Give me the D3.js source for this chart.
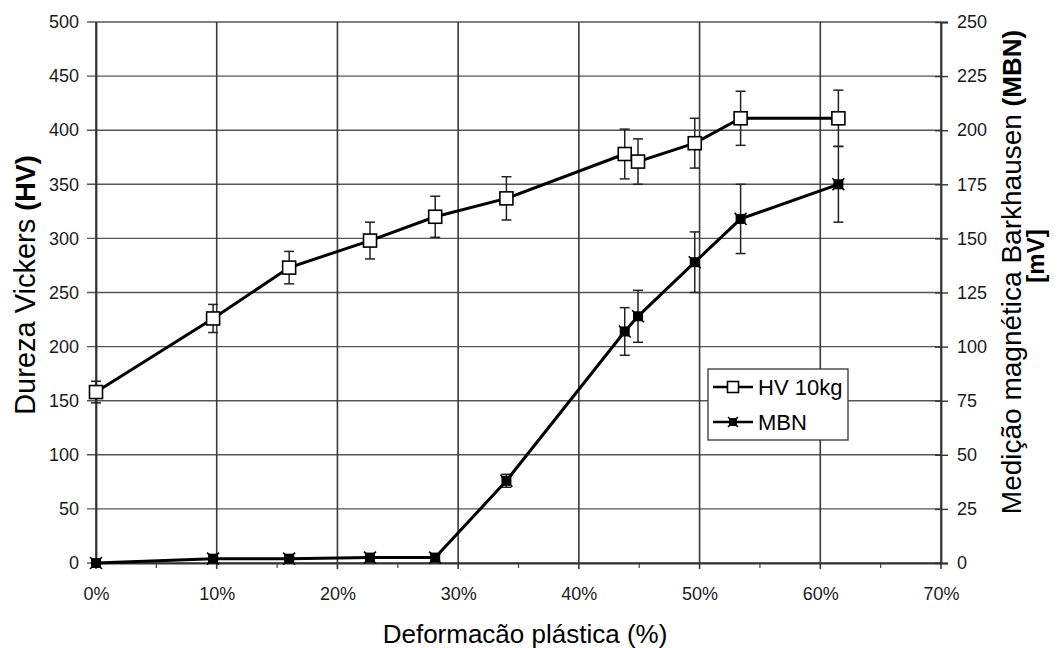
<!DOCTYPE html>
<html>
<head>
<meta charset="utf-8">
<script src="https://cdn.jsdelivr.net/npm/d3@7"></script>
<style>
  body { margin: 0; background: #fff; }
  svg { display: block; font-family: "Liberation Sans", Arial, sans-serif; }
</style>
</head>
<body>
<div id="chart"></div>
<script>
// deformation (fraction), HV hardness, MBN signal
var deform = [0, 0.097, 0.16, 0.227, 0.281, 0.340, 0.438, 0.449, 0.496, 0.534, 0.615];
var hv     = [158, 226, 273, 298, 320, 337, 378, 371, 388, 411, 411];
var hvErr  = [10, 13, 15, 17, 19, 20, 23, 21, 23, 25, 26];
var mbn    = [0, 2, 2, 2.5, 2.5, 38, 107, 114, 139, 159, 175];
var mbnErr = [0.5, 1, 1, 1.5, 1.5, 3, 11, 12, 14, 16, 17.5];

var xTicks = [0, 0.1, 0.2, 0.3, 0.4, 0.5, 0.6, 0.7];
var yLeftTicks = d3.range(0, 501, 50);
var yRightTicks = d3.range(0, 251, 25);

var W = 1059, H = 648;
var margin = { top: 22, right: 118, bottom: 85, left: 96 };

var x = d3.scaleLinear().domain([0, 0.7]).range([margin.left, W - margin.right]);
var yL = d3.scaleLinear().domain([0, 500]).range([H - margin.bottom, margin.top]);
var yR = d3.scaleLinear().domain([0, 250]).range([H - margin.bottom, margin.top]);

var svg = d3.select('#chart').append('svg').attr('width', W).attr('height', H);

// grid
svg.append('g').selectAll('line').data(yLeftTicks).enter().append('line')
  .attr('x1', margin.left - 9).attr('x2', W - margin.right)
  .attr('y1', function (d) { return yL(d); }).attr('y2', function (d) { return yL(d); })
  .attr('stroke', '#555').attr('stroke-width', 1.4);
svg.append('g').selectAll('line').data(xTicks).enter().append('line')
  .attr('x1', function (d) { return x(d); }).attr('x2', function (d) { return x(d); })
  .attr('y1', margin.top).attr('y2', H - margin.bottom + 6)
  .attr('stroke', '#3a3a3a').attr('stroke-width', 1.6);
// minor x ticks
svg.append('g').selectAll('line').data(d3.range(0.05, 0.7, 0.1)).enter().append('line')
  .attr('x1', function (d) { return x(d); }).attr('x2', function (d) { return x(d); })
  .attr('y1', H - margin.bottom).attr('y2', H - margin.bottom + 5)
  .attr('stroke', '#444').attr('stroke-width', 1.2);

// axes
var xAxis = d3.axisBottom(x).tickValues(xTicks).tickFormat(d3.format('.0%')).tickSize(0).tickPadding(24);
var gx = svg.append('g').attr('transform', 'translate(0,' + (H - margin.bottom) + ')').call(xAxis);
var yAxisL = d3.axisLeft(yL).tickValues(yLeftTicks).tickSize(0).tickPadding(17);
var gl = svg.append('g').attr('transform', 'translate(' + margin.left + ',0)').call(yAxisL);
var yAxisR = d3.axisRight(yR).tickValues(yRightTicks).tickSize(7).tickPadding(9);
var gr = svg.append('g').attr('transform', 'translate(' + (W - margin.right) + ',0)').call(yAxisR);
gr.selectAll('.tick line').attr('x1', -6).attr('stroke', '#333').attr('stroke-width', 1.4);

[gx, gl, gr].forEach(function (g) {
  g.select('.domain').attr('stroke', '#333').attr('stroke-width', 1.8);
  g.selectAll('text').attr('font-size', 18).attr('fill', '#1a1a1a')
    .attr('font-family', '"Liberation Sans", Arial, sans-serif');
});

// error bars
function errBars(vals, errs, scale, cls) {
  var g = svg.append('g').attr('class', cls).attr('stroke', '#222').attr('stroke-width', 1.5);
  deform.forEach(function (d, i) {
    var cx = x(d), y0 = scale(vals[i] - errs[i]), y1 = scale(vals[i] + errs[i]);
    g.append('line').attr('x1', cx).attr('x2', cx).attr('y1', y0).attr('y2', y1);
    g.append('line').attr('x1', cx - 5).attr('x2', cx + 5).attr('y1', y0).attr('y2', y0);
    g.append('line').attr('x1', cx - 5).attr('x2', cx + 5).attr('y1', y1).attr('y2', y1);
  });
}
errBars(hv, hvErr, yL, 'hv-err');
errBars(mbn, mbnErr, yR, 'mbn-err');

// lines
var hvLine = d3.line().x(function (d, i) { return x(deform[i]); }).y(function (d) { return yL(d); });
var mbnLine = d3.line().x(function (d, i) { return x(deform[i]); }).y(function (d) { return yR(d); });
svg.append('path').datum(hv).attr('d', hvLine).attr('fill', 'none').attr('stroke', '#000').attr('stroke-width', 3);
svg.append('path').datum(mbn).attr('d', mbnLine).attr('fill', 'none').attr('stroke', '#000').attr('stroke-width', 3);

// markers
function hvMarker(g, cx, cy, s) {
  g.append('rect').attr('x', cx - s / 2).attr('y', cy - s / 2).attr('width', s).attr('height', s)
    .attr('fill', '#fff').attr('stroke', '#000').attr('stroke-width', 1.6);
}
function mbnMarker(g, cx, cy, s) {
  var h = s / 2;
  g.append('rect').attr('x', cx - h).attr('y', cy - h).attr('width', s).attr('height', s).attr('fill', '#000');
  g.append('path').attr('d', 'M' + (cx - h - 1) + ',' + (cy - h - 1) + 'L' + (cx + h + 1) + ',' + (cy + h + 1) +
    'M' + (cx + h + 1) + ',' + (cy - h - 1) + 'L' + (cx - h - 1) + ',' + (cy + h + 1))
    .attr('stroke', '#000').attr('stroke-width', 1.6);
}
var mk = svg.append('g');
deform.forEach(function (d, i) { hvMarker(mk, x(d), yL(hv[i]), 13); });
deform.forEach(function (d, i) { mbnMarker(mk, x(d), yR(mbn[i]), 10); });

// legend
var lg = svg.append('g').attr('transform', 'translate(708,369)');
lg.append('rect').attr('width', 140).attr('height', 71).attr('fill', '#fff').attr('stroke', '#333').attr('stroke-width', 1.3);
lg.append('line').attr('x1', 5).attr('x2', 45).attr('y1', 18).attr('y2', 18).attr('stroke', '#000').attr('stroke-width', 2.5);
hvMarker(lg, 25, 18, 11);
lg.append('text').attr('x', 50).attr('y', 26).attr('font-size', 22).text('HV 10kg');
lg.append('line').attr('x1', 5).attr('x2', 45).attr('y1', 53).attr('y2', 53).attr('stroke', '#000').attr('stroke-width', 2.5);
mbnMarker(lg, 25, 53, 8);
lg.append('text').attr('x', 50).attr('y', 61).attr('font-size', 22).text('MBN');

// titles
var lt = svg.append('text').attr('transform', 'translate(35,285) rotate(-90)')
  .attr('text-anchor', 'middle').attr('font-size', 29);
lt.append('tspan').text('Dureza Vickers  ');
lt.append('tspan').attr('font-weight', 'bold').attr('font-size', 27).text('(HV)');

var rt = svg.append('text').attr('transform', 'translate(1021,272) rotate(-90)')
  .attr('text-anchor', 'middle').attr('font-size', 28);
rt.append('tspan').text('Medição magnética Barkhausen ');
rt.append('tspan').attr('font-weight', 'bold').attr('font-size', 26).text('(MBN)');
svg.append('text').attr('transform', 'translate(1044,256) rotate(-90)')
  .attr('text-anchor', 'middle').attr('font-size', 24).attr('font-weight', 'bold').text('[mV]');

svg.append('text').attr('x', 525).attr('y', 643).attr('text-anchor', 'middle').attr('font-size', 26)
  .text('Deformacão plástica (%)');
</script>
</body>
</html>
